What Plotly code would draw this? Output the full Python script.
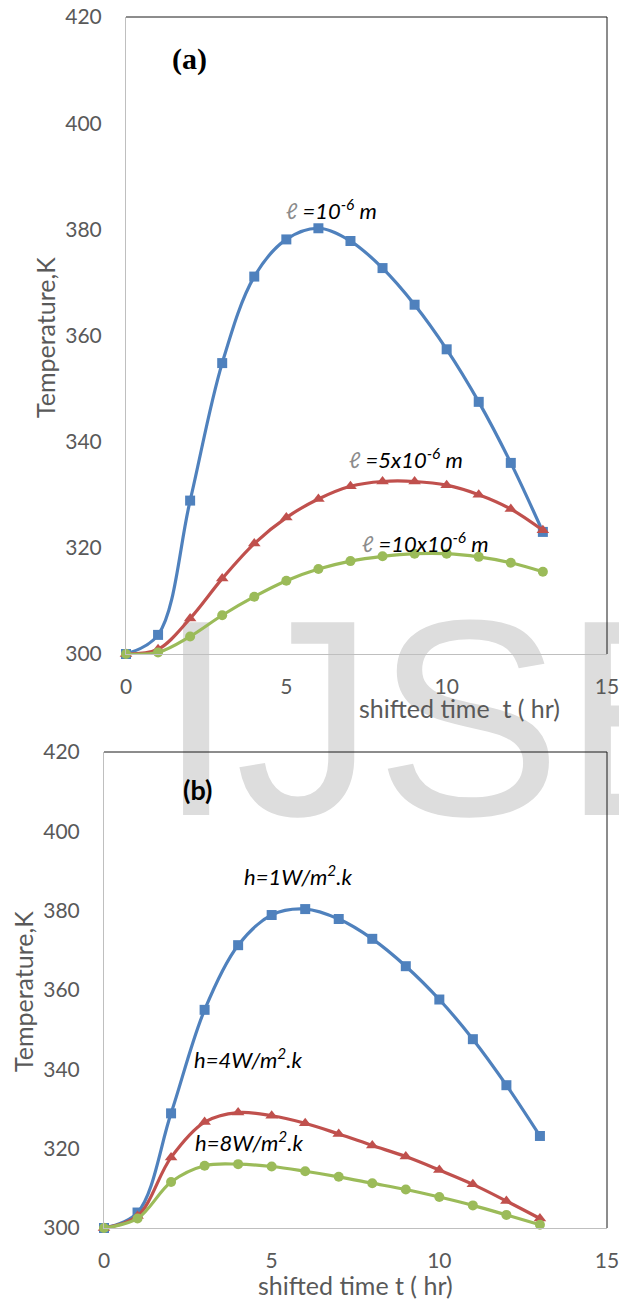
import plotly.graph_objects as go

W, H = 619, 1301

# ---------------- data ----------------
t = list(range(14))

# panel (a): thickness l
a_l1 = [300.0, 303.6, 328.9, 354.8, 371.1, 378.1, 380.2, 377.8, 372.7, 365.8, 357.4, 347.5, 336.0, 323.0]
a_l5 = [300.0, 300.9, 306.7, 314.2, 320.8, 325.7, 329.2, 331.6, 332.5, 332.5, 331.8, 330.0, 327.3, 323.3]
a_l10 = [300.0, 300.3, 303.3, 307.3, 310.8, 313.8, 316.0, 317.5, 318.4, 318.9, 318.9, 318.3, 317.2, 315.5]

# panel (b): heat transfer coefficient h
b_h1 = [300.0, 303.9, 328.9, 355.0, 371.3, 378.9, 380.4, 377.9, 372.9, 366.0, 357.6, 347.6, 336.0, 323.2]
b_h4 = [300.0, 303.0, 317.8, 326.7, 329.1, 328.3, 326.4, 323.7, 320.8, 318.0, 314.6, 311.0, 306.8, 302.4]
b_h8 = [300.0, 302.4, 311.6, 315.7, 316.1, 315.5, 314.3, 312.9, 311.3, 309.7, 307.8, 305.7, 303.3, 300.8]

x_ticks = [0, 5, 10, 15]
y_ticks = [300, 320, 340, 360, 380, 400, 420]

BLUE, RED, GREEN = "#4F81BD", "#C0504D", "#9BBB59"
TICK_FONT = dict(family="Lato", size=21, color="#595959")


def px(x):
    return x / W


def py(y):
    return 1 - y / H


fig = go.Figure()

# watermark (drawn first, behind the panels)
fig.add_trace(go.Scatter(
    x=[554], y=[745], mode="text", text=["IJSER"], textposition="middle center",
    textfont=dict(family="Liberation Sans", size=280, color="#DDDDDD"),
    xaxis="x", yaxis="y", hoverinfo="skip", showlegend=False, cliponaxis=False,
))

series = [
    ("x2", "y2", a_l1, BLUE, "square", 10),
    ("x2", "y2", a_l5, RED, "triangle-up", 11),
    ("x2", "y2", a_l10, GREEN, "circle", 10),
    ("x3", "y3", b_h1, BLUE, "square", 10),
    ("x3", "y3", b_h4, RED, "triangle-up", 11),
    ("x3", "y3", b_h8, GREEN, "circle", 10),
]
for xa, ya, vals, col, sym, ms in series:
    fig.add_trace(go.Scatter(
        x=t, y=vals, xaxis=xa, yaxis=ya, mode="lines+markers",
        line=dict(color=col, width=3.2, shape="spline", smoothing=1),
        marker=dict(color=col, symbol=sym, size=ms),
        cliponaxis=False, showlegend=False,
    ))

# panel geometry (pixels)
A = dict(l=126, r=607, t=17, b=654)
B = dict(l=104, r=607, t=752, b=1228)

common_x = dict(range=[0, 15], tickvals=x_ticks, showgrid=False, zeroline=False,
                showline=True, linecolor="#BFBFBF", linewidth=1,
                ticks="outside", ticklen=14, tickcolor="rgba(0,0,0,0)",
                tickfont=TICK_FONT, automargin=False, ticklabeloverflow="allow")
common_y = dict(range=[300, 420], tickvals=y_ticks, showgrid=False, zeroline=False,
                showline=True, linecolor="#BFBFBF", linewidth=1,
                ticks="outside", ticklen=19, tickcolor="rgba(0,0,0,0)",
                tickfont=TICK_FONT, automargin=False, ticklabeloverflow="allow")

fig.update_layout(
    width=W, height=H, margin=dict(l=0, r=0, t=0, b=0, autoexpand=False),
    paper_bgcolor="white", plot_bgcolor="rgba(0,0,0,0)",
    xaxis=dict(domain=[0, 1], range=[0, W], visible=False, fixedrange=True, automargin=False),
    yaxis=dict(domain=[0, 1], range=[H, 0], visible=False, fixedrange=True, automargin=False),
    xaxis2=dict(domain=[px(A["l"]), px(A["r"])], anchor="y2", **common_x),
    yaxis2=dict(domain=[py(A["b"]), py(A["t"])], anchor="x2", **common_y),
    xaxis3=dict(domain=[px(B["l"]), px(B["r"])], anchor="y3", **common_x),
    yaxis3=dict(domain=[py(B["b"]), py(B["t"])], anchor="x3", **common_y),
)

# black frame (top and right edges)
for P in (A, B):
    fig.add_shape(type="line", xref="paper", yref="paper",
                  x0=px(P["l"]), x1=px(P["r"]), y0=py(P["t"]), y1=py(P["t"]),
                  line=dict(color="#1A1A1A", width=1))
    fig.add_shape(type="line", xref="paper", yref="paper",
                  x0=px(P["r"]), x1=px(P["r"]), y0=py(P["t"]), y1=py(P["b"]),
                  line=dict(color="#1A1A1A", width=1))


def ann(x, y, text, angle=0, **font):
    f = dict(family="Lato", size=22, color="black")
    f.update(font)
    fig.add_annotation(x=px(x), y=py(y), xref="paper", yref="paper", text=text,
                       showarrow=False, xanchor="center", yanchor="middle",
                       textangle=angle, font=f)


GREY = "#595959"
# axis titles
ann(460, 708, "shifted time  t ( hr)", size=25, color=GREY)
ann(355, 1285, "shifted time t ( hr)", size=25, color=GREY)
ann(45, 338, "Temperature,K", angle=-90, size=25, color=GREY)
ann(23, 992, "Temperature,K", angle=-90, size=25, color=GREY)

# panel labels
ann(190, 59, "<b>(a)</b>", family="Liberation Serif", size=30)
ann(197, 789, "<b>(b)</b>", family="Lato", size=27)

ELL = '<span style="color:#8C8C8C">ℓ</span>'
ann(331, 210, f"<i>{ELL} =10<sup>-6</sup> m</i>")
ann(406, 459, f"<i>{ELL} =5x10<sup>-6</sup> m</i>")
ann(425, 542, f"<i>{ELL} =10x10<sup>-6</sup> m</i>")

ann(298, 875, "<i>h=1W/m<sup>2</sup>.k</i>")
ann(248, 1058, "<i>h=4W/m<sup>2</sup>.k</i>")
ann(249, 1141, "<i>h=8W/m<sup>2</sup>.k</i>")

fig.write_html("out.html")
